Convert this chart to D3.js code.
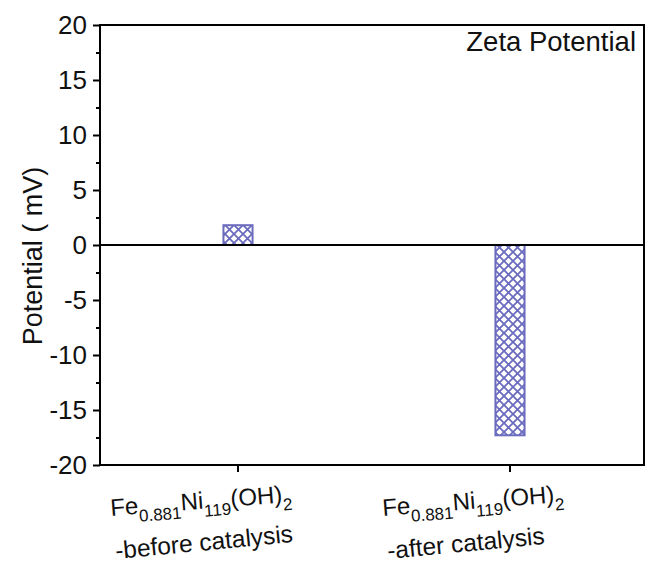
<!DOCTYPE html>
<html>
<head>
<meta charset="utf-8">
<script src="https://cdn.jsdelivr.net/npm/d3@7/dist/d3.min.js"></script>
<style>
  html, body { margin: 0; padding: 0; background: #fff; }
  svg { display: block; font-family: "Liberation Sans", Arial, sans-serif; }
</style>
</head>
<body>
<svg id="chart" width="646" height="574"></svg>
<script>
// Zeta potential of the catalyst before and after catalysis
const categories = ["before", "after"];
const potentials = [1.8, -17.3];          // mV
const yTicks = [-20, -15, -10, -5, 0, 5, 10, 15, 20];
const yMinorTicks = [-17.5, -12.5, -7.5, -2.5, 2.5, 7.5, 12.5, 17.5];
// each label line is a list of [text, isSubscript]
const labelLine1 = [["Fe", false], ["0.881", true], ["Ni", false], ["119", true], ["(OH)", false], ["2", true]];
const labelLine2 = ["-before catalysis", "-after catalysis"];
const yTitle = "Potential ( mV)";
const panelTitle = "Zeta Potential";

const plot = { left: 100, right: 644, top: 25, bottom: 465 };
const barColor = "#6b6bbf";

const svg = d3.select("#chart");

const y = d3.scaleLinear().domain([-20, 20]).range([plot.bottom, plot.top]);
const x = d3.scaleBand().domain(categories).range([plot.left + 2, plot.right + 2])
  .paddingInner(0.893).paddingOuter(0.4465);

// cross-hatch fill
const defs = svg.append("defs");
const pat = defs.append("pattern")
  .attr("id", "xhatch").attr("patternUnits", "userSpaceOnUse")
  .attr("width", 9).attr("height", 9);
pat.append("rect").attr("width", 9).attr("height", 9).attr("fill", "#fff");
pat.append("path")
  .attr("d", "M-1,-1 L10,10 M-1,10 L10,-1")
  .attr("stroke", barColor).attr("stroke-width", 1.8).attr("fill", "none");

// bars
svg.append("g").selectAll("rect")
  .data(categories.map((c, i) => ({ c, v: potentials[i] })))
  .join("rect")
  .attr("x", d => x(d.c))
  .attr("width", x.bandwidth())
  .attr("y", d => y(Math.max(0, d.v)))
  .attr("height", d => Math.abs(y(d.v) - y(0)))
  .attr("fill", "url(#xhatch)")
  .attr("stroke", barColor).attr("stroke-width", 2);

// zero line
svg.append("line")
  .attr("x1", plot.left).attr("x2", plot.right)
  .attr("y1", y(0)).attr("y2", y(0))
  .attr("stroke", "#000").attr("stroke-width", 2);

// frame
svg.append("rect")
  .attr("x", plot.left).attr("y", plot.top)
  .attr("width", plot.right - plot.left).attr("height", plot.bottom - plot.top)
  .attr("fill", "none").attr("stroke", "#000").attr("stroke-width", 2);

// left axis (plain hyphen for negative numbers)
const yAxis = svg.append("g")
  .attr("transform", `translate(${plot.left},0)`)
  .call(d3.axisLeft(y).tickValues(yTicks).tickSize(7).tickPadding(6).tickFormat(d => String(d)));
yAxis.select(".domain").remove();
yAxis.selectAll(".tick line").attr("stroke-width", 2);
yAxis.selectAll(".tick text").attr("font-size", 26).attr("fill", "#111")
  .attr("font-family", "Liberation Sans, Arial, sans-serif");

const yMinor = svg.append("g")
  .attr("transform", `translate(${plot.left},0)`)
  .call(d3.axisLeft(y).tickValues(yMinorTicks).tickSize(4).tickFormat(""));
yMinor.select(".domain").remove();
yMinor.selectAll(".tick line").attr("stroke-width", 2);

// bottom axis ticks
const xAxis = svg.append("g")
  .attr("transform", `translate(0,${plot.bottom})`)
  .call(d3.axisBottom(x).tickSize(7).tickFormat(""));
xAxis.select(".domain").remove();
xAxis.selectAll(".tick line").attr("stroke-width", 2);

// category labels, slightly tilted
categories.forEach((c, i) => {
  const cx = x(c) + x.bandwidth() / 2;
  const t1 = svg.append("text")
    .attr("transform", `translate(${cx - 127},516) rotate(-4.5)`)
    .attr("font-size", 24).attr("fill", "#111");
  let sub = false;
  labelLine1.forEach(([txt, isSub]) => {
    const ts = t1.append("tspan").text(txt);
    if (isSub) ts.attr("font-size", 17);
    if (isSub && !sub) ts.attr("dy", 8);
    if (!isSub && sub) ts.attr("dy", -8);
    sub = isSub;
  });
  svg.append("text")
    .attr("transform", `translate(${cx - 122},559) rotate(-5.5)`)
    .attr("font-size", 24.5).attr("fill", "#111")
    .text(labelLine2[i]);
});

// y-axis title
svg.append("text")
  .attr("transform", `translate(42,256) rotate(-90)`)
  .attr("text-anchor", "middle")
  .attr("font-size", 27).attr("fill", "#111")
  .text(yTitle);

// panel title
svg.append("text")
  .attr("x", plot.right - 8).attr("y", 51)
  .attr("text-anchor", "end")
  .attr("font-size", 27.5).attr("fill", "#111")
  .text(panelTitle);
</script>
</body>
</html>
